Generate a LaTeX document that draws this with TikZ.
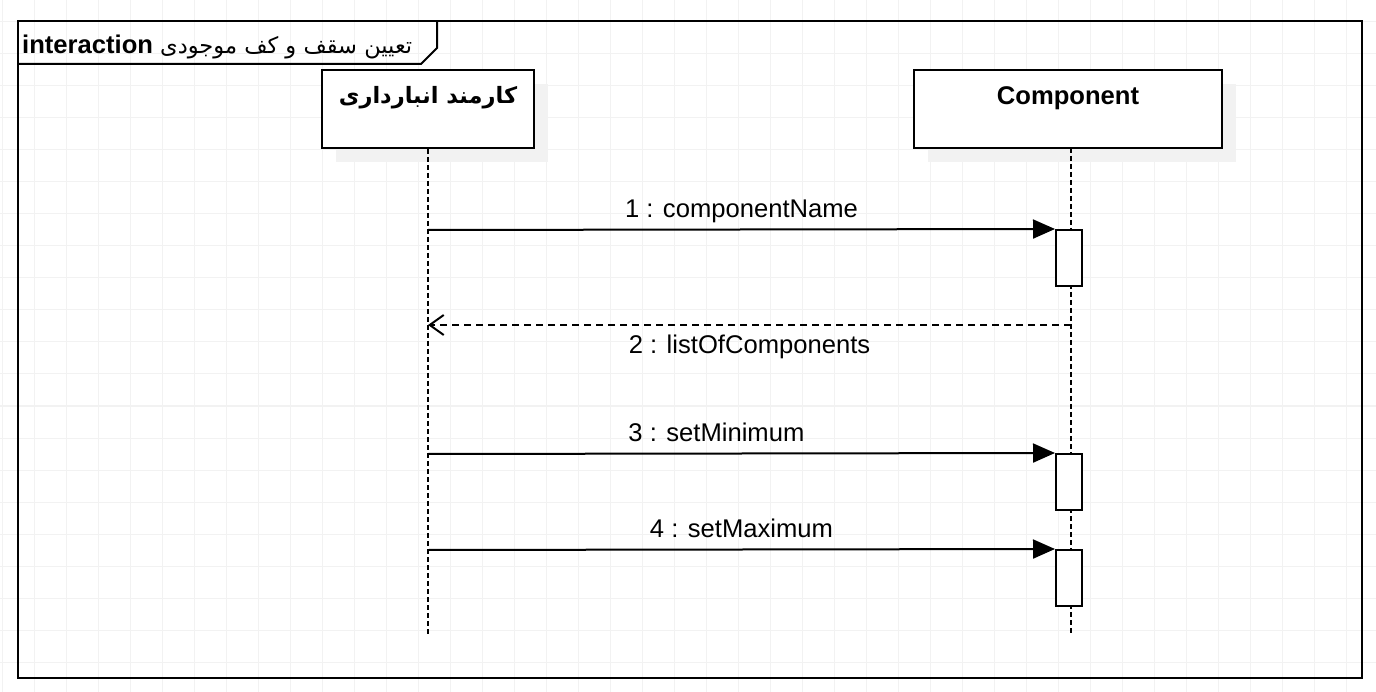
\documentclass[tikz,border=0pt]{standalone}
\usepackage{fontspec}
\setmainfont{Liberation Sans}
\newfontfamily\persianfont[Script=Arabic,Scale=0.88]{DejaVu Sans}
\TeXXeTstate=1
\usetikzlibrary{arrows.meta,positioning}

\begin{document}
\begin{tikzpicture}
%Sequence diagram
	[
	 	 %Styles
       x=1pt, y=-1pt,
       font=\fontsize{25.6}{30}\selectfont,
       grid_line/.style={draw=black!5,line width=1pt},
       frame_line/.style={draw=black,line width=2pt},
		 head_node/.style={rectangle,draw=black,line width=2pt,fill=white,minimum width=212pt,minimum height=78pt},
		 shadow_node/.style={rectangle,fill=black!5,minimum width=212pt,minimum height=78pt},
		 head_text/.style={anchor=north,yshift=-14pt,font=\fontsize{25.6}{30}\selectfont\bfseries},
		 life_line/.style={draw=black,line width=2pt,dash pattern=on 5pt off 3pt},
		 act_node/.style={rectangle,draw=black,line width=2pt,fill=white,minimum width=26pt,minimum height=56pt,inner sep=0pt},
		 msg_call/.style={draw=black,line width=2pt,-{Triangle[length=22pt,width=19pt]}},
		 msg_return/.style={draw=black,line width=2pt,dash pattern=on 7pt off 5pt,-{Straight Barb[length=14pt,width=20pt]}},
		 msg_label/.style={inner sep=5pt,text height=19pt,text depth=5.6pt}
    ]
   \useasboundingbox (0,0) rectangle (1376,692);

   %Background grid
   \foreach \gx in {2,34,...,1376} \draw[grid_line] (\gx,0) -- (\gx,692);
   \foreach \gy in {22,54,...,692} \draw[grid_line] (0,\gy) -- (1376,\gy);

   %Frame
   \draw[frame_line] (18,21) rectangle (1362,678);
   \draw[frame_line] (18,64) -- (421,64) -- (437,48) -- (437,21);
   \node (title) [anchor=base west,inner sep=0pt] at (22,54)
       {\textbf{interaction} {\persianfont\beginR تعیین سقف و کف موجودی\endR}};

   %Lifeline heads
   \node (clerk_shadow) [shadow_node] at (442,123) {};
   \node (comp_shadow) [shadow_node,minimum width=308pt] at (1082,123) {};
   \node (clerk) [head_node,label={[head_text]north:{\persianfont\beginR کارمند انبارداری\endR}}] at (428,109) {};
   \node (comp) [head_node,minimum width=308pt,label={[head_text]north:Component}] at (1068,109) {};

   %Lifelines
   \coordinate (clerk_end) at (428,635);
   \coordinate (comp_top) at (1071,148);
   \coordinate (comp_end) at (1071,635);
   \draw[life_line] (clerk.south) -- (clerk_end);
   \draw[life_line] (comp_top) -- (comp_end);

   %Activations
   \node (act1) [act_node] at (1069,258) {};
   \node (act3) [act_node] at (1069,482) {};
   \node (act4) [act_node] at (1069,578) {};

   %Messages
   \coordinate (m1) at (428,230);
   \coordinate (m2a) at (1071,325);
   \coordinate (m2b) at (428,325);
   \coordinate (m3) at (428,454);
   \coordinate (m4) at (428,550);
   \draw[msg_call] (m1) -- (act1.north west)
       node [msg_label,midway,above] {1 : componentName};
   \draw[msg_return] (m2a) -- (m2b)
       node [msg_label,inner sep=9pt,midway,below] {2 : listOfComponents};
   \draw[msg_call] (m3) -- (act3.north west)
       node [msg_label,pos=0.46,above] {3 : setMinimum};
   \draw[msg_call] (m4) -- (act4.north west)
       node [msg_label,midway,above] {4 : setMaximum};
\end{tikzpicture}
\end{document}
